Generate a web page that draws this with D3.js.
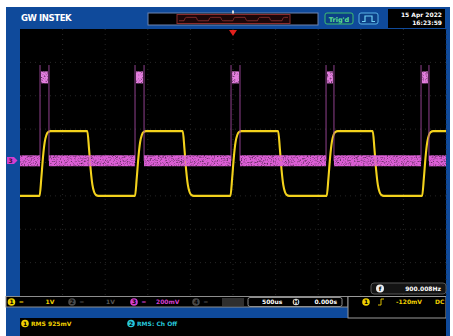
<!DOCTYPE html>
<html>
<head>
<meta charset="utf-8">
<script src="https://cdn.jsdelivr.net/npm/d3@7"></script>
<style>
  body { margin: 0; background: #fff; }
  svg { display: block; }
  text { font-family: "DejaVu Sans", sans-serif; font-weight: bold; }
</style>
</head>
<body>
<div id="scope"></div>
<script>
// ---- values (time in ms, volts) ----
var timeDomain = [-2.5, 2.5];          // 500us/div, 10 divs
var ch1Rise = [-2.27, -1.15, -0.03, 1.10, 2.22];
var ch1Fall = [-1.71, -0.59, 0.53, 1.64];
var ch1Levels = [-1.0, 0.94];          // low, high (1V/div)
var edgeDt = [0, 0.02, 0.04, 0.06, 0.08, 0.10, 0.13];
var edgeFrac = [0, 0.27, 0.6, 0.83, 0.94, 0.985, 1];
var ch3PulseStart = [-2.265, -1.15, -0.023, 1.092, 2.207];
var ch3PulseEnd = [-2.16, -1.044, 0.082, 1.185, 2.30];
var ch3Levels = [0.01, 0.51, 0.584];   // base, top, edge overshoot (200mV/div)

var width = 453, height = 336;
var plot = {left: 20, right: 446, top: 29, bottom: 296};

var svg = d3.select("#scope").append("svg")
  .attr("width", width).attr("height", height);

var defs = svg.append("defs");
var f = defs.append("filter").attr("id", "grain")
  .attr("x", 0).attr("y", -0.2).attr("width", 1).attr("height", 1.4);
f.append("feTurbulence").attr("type", "fractalNoise").attr("baseFrequency", "0.7 1.2")
  .attr("numOctaves", 2).attr("seed", 3).attr("result", "n");
f.append("feColorMatrix").attr("in", "n").attr("type", "matrix")
  .attr("values", "0 0 0 0 0  0 0 0 0 0  0 0 0 0 0  1.7 0 0 0 0.12").attr("result", "a");
f.append("feComposite").attr("in", "SourceGraphic").attr("in2", "a").attr("operator", "in");

// frame
svg.append("rect").attr("x", 6).attr("y", 7).attr("width", 444).attr("height", 329).attr("fill", "#0f4a9b");
svg.append("rect").attr("x", plot.left).attr("y", plot.top)
  .attr("width", plot.right - plot.left).attr("height", plot.bottom - plot.top).attr("fill", "#000");

var x = d3.scaleLinear().domain(timeDomain).range([plot.left, plot.right]);
var y1 = d3.scaleLinear().domain([-4, 4]).range([plot.bottom, plot.top]);
var y3 = d3.scaleLinear().domain([-0.8, 0.8]).range([plot.bottom, plot.top]);

// dotted graticule, very faint on this screen
var grid = svg.append("g").attr("stroke", "#262626").attr("stroke-dasharray", "1,4");
grid.selectAll(".v").data(d3.range(-2, 2.51, 0.5)).enter().append("line")
  .attr("x1", d => x(d)).attr("x2", d => x(d)).attr("y1", plot.top).attr("y2", plot.bottom);
grid.selectAll(".h").data(d3.range(-3, 3.1, 1)).enter().append("line")
  .attr("y1", d => y1(d)).attr("y2", d => y1(d)).attr("x1", plot.left).attr("x2", plot.right);

// ---- ch1 trace ----
function ch1Points() {
  var ev = ch1Rise.map(t => ({t: t, up: true})).concat(ch1Fall.map(t => ({t: t, up: false})))
    .sort((a, b) => a.t - b.t);
  var lo = ch1Levels[0], hi = ch1Levels[1];
  var pts = [[timeDomain[0], lo]];
  var level = lo;
  ev.forEach(function(e) {
    var from = e.up ? lo : hi, to = e.up ? hi : lo;
    edgeDt.forEach(function(dt, k) {
      if (e.t + dt <= timeDomain[1]) pts.push([e.t + dt, from + (to - from) * edgeFrac[k]]);
    });
    level = to;
  });
  pts.push([timeDomain[1], level]);
  return pts;
}
var p1 = ch1Points();

svg.append("path").datum(p1)
  .attr("d", d3.line().x(d => x(d[0])).y(d => y1(d[1])).curve(d3.curveMonotoneX))
  .attr("fill", "none").attr("stroke", "#f3d21c").attr("stroke-width", 2.1);

// ---- ch3 trace ----
var base = [], tops = [];
var t0 = timeDomain[0];
ch3PulseStart.forEach(function(s, i) {
  base.push([t0, s]);
  tops.push([s, Math.min(ch3PulseEnd[i], timeDomain[1])]);
  t0 = ch3PulseEnd[i];
});
if (t0 < timeDomain[1]) base.push([t0, timeDomain[1]]);

var g3 = svg.append("g");
g3.selectAll(".edge").data(ch3PulseStart.concat(ch3PulseEnd)).enter().append("line")
  .attr("x1", d => x(d)).attr("x2", d => x(d))
  .attr("y1", y3(ch3Levels[0])).attr("y2", y3(ch3Levels[2]))
  .attr("stroke", "#a0479e").attr("stroke-width", 0.9);
var band = g3.append("g").attr("filter", "url(#grain)");
band.selectAll(".base").data(base).enter().append("line")
  .attr("x1", d => x(d[0])).attr("x2", d => x(d[1]))
  .attr("y1", y3(ch3Levels[0])).attr("y2", y3(ch3Levels[0]))
  .attr("stroke", "#dc5fd6").attr("stroke-width", 11);
band.selectAll(".top").data(tops).enter().append("line")
  .attr("x1", d => x(d[0]) + 1).attr("x2", d => x(d[1]) - 1)
  .attr("y1", y3(ch3Levels[1])).attr("y2", y3(ch3Levels[1]))
  .attr("stroke", "#e57ee0").attr("stroke-width", 12);

// ch3 ground marker
svg.append("path").attr("d", "M7,157H14L17.5,160.5L14,164H7Z").attr("fill", "#d23fcf");
svg.append("text").attr("x", 10.5).attr("y", 163).attr("font-size", 6).attr("fill", "#3a0a3a")
  .attr("text-anchor", "middle").text("3");

// trigger position marker
svg.append("path").attr("d", "M" + (x(0) - 4) + ",30H" + (x(0) + 4) + "L" + x(0) + ",36Z").attr("fill", "#e3211d");

// ---- header ----
svg.append("text").attr("x", 21).attr("y", 21).attr("font-size", 8.5).attr("fill", "#fff")
  .attr("letter-spacing", -0.4).text("GW INSTEK");
svg.append("rect").attr("x", 148).attr("y", 13).attr("width", 170).attr("height", 12)
  .attr("fill", "#000").attr("stroke", "#6d83b0").attr("stroke-width", 1);
svg.append("rect").attr("x", 177).attr("y", 14.5).attr("width", 113).attr("height", 9)
  .attr("fill", "#1c0608").attr("stroke", "#8c2d2d").attr("stroke-width", 1);
var mx = d3.scaleLinear().domain(timeDomain).range([179, 288]);
var my = d3.scaleLinear().domain([-4, 4]).range([26, 12]);
svg.append("path").datum(p1)
  .attr("d", d3.line().x(d => mx(d[0])).y(d => my(d[1])))
  .attr("fill", "none").attr("stroke", "#a83a3a").attr("stroke-width", 0.7);
svg.append("rect").attr("x", x(0) - 1).attr("y", 10.5).attr("width", 2).attr("height", 3).attr("fill", "#ddd");

svg.append("rect").attr("x", 325).attr("y", 13).attr("width", 28).attr("height", 11).attr("rx", 2)
  .attr("fill", "#0c3f86").attr("stroke", "#3fbf70");
svg.append("text").attr("x", 339).attr("y", 21.5).attr("font-size", 6.5).attr("fill", "#5ee28e")
  .attr("text-anchor", "middle").text("Trig'd");
svg.append("rect").attr("x", 359).attr("y", 13).attr("width", 19).attr("height", 11).attr("rx", 2)
  .attr("fill", "#0c3f86").attr("stroke", "#5bb3e6");
svg.append("path").attr("d", "M362,21.5H365V16H372V21.5H375").attr("fill", "none")
  .attr("stroke", "#6fd0f5").attr("stroke-width", 1.2);
svg.append("rect").attr("x", 388).attr("y", 9).attr("width", 57).attr("height", 19).attr("fill", "#000");
svg.append("text").attr("x", 442).attr("y", 16.5).attr("font-size", 6).attr("fill", "#fff")
  .attr("text-anchor", "end").text("15 Apr 2022");
svg.append("text").attr("x", 442).attr("y", 25).attr("font-size", 6).attr("fill", "#fff")
  .attr("text-anchor", "end").text("16:23:59");

// frequency counter
svg.append("rect").attr("x", 371).attr("y", 283).attr("width", 75).attr("height", 11).attr("rx", 3)
  .attr("fill", "#141414").attr("stroke", "#555");
svg.append("circle").attr("cx", 380).attr("cy", 288.5).attr("r", 4).attr("fill", "#eee");
svg.append("text").attr("x", 380).attr("y", 291).attr("font-size", 6).attr("fill", "#000")
  .attr("text-anchor", "middle").text("f");
svg.append("text").attr("x", 441).attr("y", 291.3).attr("font-size", 6).attr("fill", "#fff")
  .attr("text-anchor", "end").text("900.008Hz");

// ---- bottom bars ----
svg.append("rect").attr("x", 6).attr("y", 296.5).attr("width", 342).attr("height", 10.5)
  .attr("fill", "#000").attr("stroke", "#8d8d8d");
svg.append("rect").attr("x", plot.left).attr("y", 318).attr("width", plot.right - plot.left).attr("height", 18).attr("fill", "#000");
svg.append("rect").attr("x", 348).attr("y", 296.5).attr("width", 98).attr("height", 21.5)
  .attr("fill", "#000").attr("stroke", "#9a9a9a");

function badge(cx, cy, label, col) {
  svg.append("circle").attr("cx", cx).attr("cy", cy).attr("r", 3.8).attr("fill", col);
  svg.append("text").attr("x", cx).attr("y", cy + 2.2).attr("font-size", 6).attr("fill", "#000")
    .attr("text-anchor", "middle").text(label);
}
function label(tx, ty, s, col, anchor) {
  svg.append("text").attr("x", tx).attr("y", ty).attr("font-size", 6).attr("fill", col)
    .attr("text-anchor", anchor || "start").text(s);
}
var chans = [
  {n: "1", x: 11.5, col: "#f0d000", txt: "1V"},
  {n: "2", x: 72, col: "#4a4a4a", txt: "1V"},
  {n: "3", x: 134, col: "#d43fd0", txt: "200mV"},
  {n: "4", x: 196, col: "#4a4a4a", txt: "1V"}
];
chans.forEach(function(c) {
  badge(c.x, 302, c.n, c.col);
  label(c.x + 8, 304.3, "\u2550", c.col);
  label(c.x + (c.n === "3" ? 22 : 34), 304.3, c.txt, c.col === "#4a4a4a" ? "#555" : c.col);
});
svg.append("rect").attr("x", 222).attr("y", 298).attr("width", 22).attr("height", 8).attr("fill", "#2f2f2f");
svg.append("rect").attr("x", 248).attr("y", 297.5).attr("width", 94).attr("height", 9).attr("rx", 2)
  .attr("fill", "#000").attr("stroke", "#8d8d8d");
label(262, 304.3, "500us", "#fff");
svg.append("circle").attr("cx", 296).attr("cy", 302).attr("r", 3.3).attr("fill", "#ddd");
label(296, 304.2, "H", "#000", "middle");
label(337, 304.3, "0.000s", "#fff", "end");

badge(366, 302, "1", "#f0d000");
svg.append("path").attr("d", "M378,305H381V299H384").attr("fill", "none").attr("stroke", "#f0d000").attr("stroke-width", 0.9);
label(422, 304.3, "-120mV", "#f0d000", "end");
label(435, 304.3, "DC", "#f0d000");
svg.append("rect").attr("x", 446).attr("y", 296).attr("width", 4).attr("height", 23).attr("fill", "#0f4a9b");

badge(25, 323.5, "1", "#f0d000");
label(31, 325.8, "RMS  925mV", "#f0d000");
badge(131, 323.5, "2", "#27c6d9");
label(137, 325.8, "RMS: Ch Off", "#27c6d9");
</script>
</body>
</html>
